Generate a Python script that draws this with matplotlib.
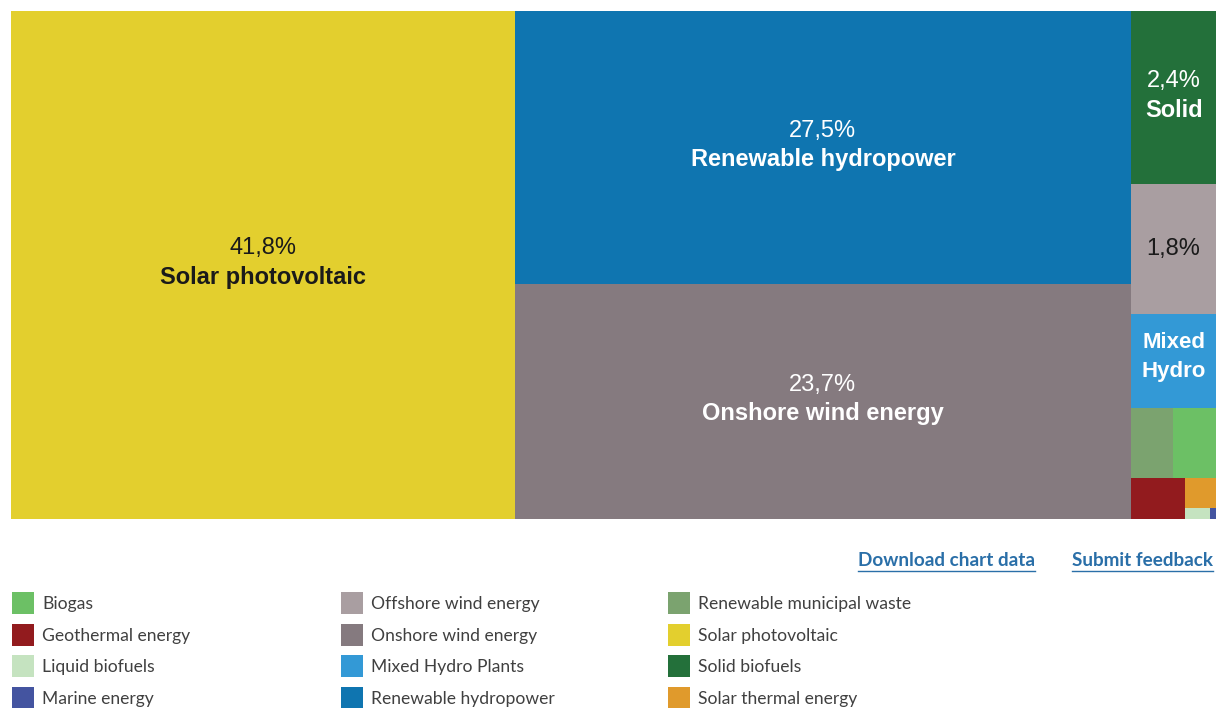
import matplotlib
matplotlib.use("Agg")
import matplotlib.pyplot as plt
from matplotlib.patches import Rectangle

# categories in legend order
names = ["Biogas", "Geothermal energy", "Liquid biofuels", "Marine energy",
         "Offshore wind energy", "Onshore wind energy", "Mixed Hydro Plants",
         "Renewable hydropower", "Renewable municipal waste", "Solar photovoltaic",
         "Solid biofuels", "Solar thermal energy"]
# share of renewable electricity, %
values = [0.49, 0.36, 0.045, 0.011, 1.8, 23.7, 1.3, 27.5, 0.48, 41.8, 2.4, 0.15]
colors = ["#6cc065", "#921b1e", "#c5e3c0", "#4454a0", "#a99ea1", "#857a7f",
          "#3399d6", "#0f75b0", "#7ba36f", "#e3cf2e", "#23703a", "#e09a2c"]
# text drawn inside the tiles (empty = no name shown)
tile_names = ["", "", "", "", "", "Onshore wind energy", "Mixed\nHydro",
              "Renewable hydropower", "", "Solar photovoltaic", "Solid", ""]
show_pct = [False, False, False, False, True, True, False, True, False, True, True, False]
dark_text = [4, 9]

# nesting of the treemap (slice and dice, alternating direction)
groups = [[9], [7, 5], [10, 4, 6, [8, 0], [1, [11, [2, 3]]]]]


def total(g):
    if isinstance(g, int):
        return values[g]
    return sum(total(c) for c in g)


def layout(g, x, y, w, h, horiz, out):
    if isinstance(g, int):
        out[g] = (x, y, w, h)
        return
    t = total(g)
    pos = 0.0
    for c in g:
        f = total(c) / t
        if horiz:
            layout(c, x + pos * w, y, f * w, h, not horiz, out)
        else:
            layout(c, x, y + pos * h, w, f * h, not horiz, out)
        pos += f


W, H = 1219, 708
fig = plt.figure(figsize=(W / 100, H / 100), dpi=100)
ax = fig.add_axes([11 / W, 1 - 519 / H, 1205 / W, 508 / H])
ax.set_xlim(0, 1)
ax.set_ylim(1, 0)
ax.axis("off")

rects = {}
layout(groups, 0, 0, 1, 1, True, rects)

for i, (x, y, w, h) in rects.items():
    ax.add_patch(Rectangle((x, y), w, h, facecolor=colors[i], edgecolor="none"))
    tc = "#1a1a1a" if i in dark_text else "white"
    cx, cy = x + w / 2, y + h / 2
    pct = f"{values[i]:.1f}".replace(".", ",") + "%"
    if show_pct[i] and tile_names[i]:
        ax.annotate(pct, (cx, cy), xytext=(0, 12), textcoords="offset points",
                    ha="center", va="center", color=tc, fontsize=17,
                    family="Liberation Sans")
        ax.annotate(tile_names[i], (cx, cy), xytext=(0, -9), textcoords="offset points",
                    ha="center", va="center", color=tc, fontsize=17,
                    fontweight="bold", family="Liberation Sans")
    elif show_pct[i]:
        ax.text(cx, cy, pct, ha="center", va="center", color=tc, fontsize=17,
                family="Liberation Sans")
    elif tile_names[i]:
        ax.annotate(tile_names[i], (cx, cy), xytext=(0, 3), textcoords="offset points",
                    ha="center", va="center", color=tc, fontsize=16,
                    fontweight="bold", family="Liberation Sans", linespacing=1.45)

# links
link_col = "#2a6fa8"
for label, xr in [("Download chart data", 1035), ("Submit feedback", 1213)]:
    t = fig.text(xr / W, 1 - 560 / H, label, ha="right", va="center",
                 color=link_col, fontsize=13.6, fontweight="bold", family="Lato")
    fig.canvas.draw()
    bb = t.get_window_extent()
    fig.add_artist(plt.Line2D([bb.x0 / W, bb.x1 / W], [(bb.y0 - 2) / H] * 2,
                              color=link_col, lw=1))

# legend, column-major, 4 rows
col_x = [12, 341, 668]
row_y = [603, 635, 666, 698]
for i, name in enumerate(names):
    lx = col_x[i // 4]
    ly = row_y[i % 4]
    fig.add_artist(Rectangle((lx / W, 1 - (ly + 11) / H), 22 / W, 22 / H,
                             facecolor=colors[i], edgecolor="none",
                             transform=fig.transFigure))
    fig.text((lx + 30) / W, 1 - (ly + 1) / H, name, ha="left", va="center",
             color="#404040", fontsize=12.6, family="Lato")

fig.savefig("out.png", dpi=100, facecolor="white")
